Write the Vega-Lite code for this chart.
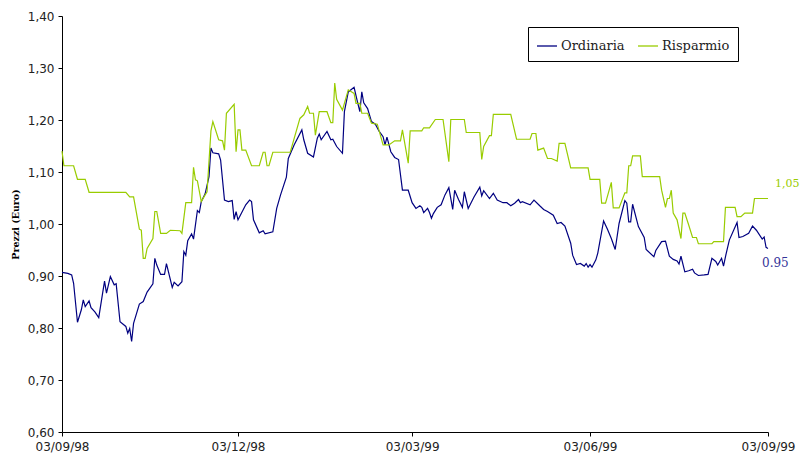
{
  "$schema": "https://vega.github.io/schema/vega-lite/v6.json",
  "width": 706,
  "height": 416,
  "autosize": {"type": "none"},
  "padding": {"left": 62, "top": 16, "right": 32, "bottom": 25},
  "background": "white",
  "config": {"view": {"stroke": null}},
  "datasets": {
    "ordinaria": [
      {"data":"1998-09-03","prezzo":0.907},{"data":"1998-09-06","prezzo":0.905},{"data":"1998-09-08","prezzo":0.902},{"data":"1998-09-09","prezzo":0.886},{"data":"1998-09-11","prezzo":0.811},{"data":"1998-09-13","prezzo":0.835},{"data":"1998-09-14","prezzo":0.854},{"data":"1998-09-15","prezzo":0.841},{"data":"1998-09-17","prezzo":0.852},{"data":"1998-09-18","prezzo":0.839},{"data":"1998-09-20","prezzo":0.831},{"data":"1998-09-22","prezzo":0.820},{"data":"1998-09-24","prezzo":0.867},{"data":"1998-09-25","prezzo":0.890},{"data":"1998-09-26","prezzo":0.867},{"data":"1998-09-28","prezzo":0.899},{"data":"1998-09-30","prezzo":0.883},
      {"data":"1998-10-01","prezzo":0.885},{"data":"1998-10-03","prezzo":0.812},{"data":"1998-10-06","prezzo":0.803},{"data":"1998-10-07","prezzo":0.790},{"data":"1998-10-08","prezzo":0.799},{"data":"1998-10-09","prezzo":0.774},{"data":"1998-10-10","prezzo":0.809},{"data":"1998-10-13","prezzo":0.846},{"data":"1998-10-15","prezzo":0.851},{"data":"1998-10-17","prezzo":0.869},{"data":"1998-10-20","prezzo":0.885},{"data":"1998-10-21","prezzo":0.934},{"data":"1998-10-22","prezzo":0.921},{"data":"1998-10-24","prezzo":0.903},{"data":"1998-10-26","prezzo":0.903},{"data":"1998-10-27","prezzo":0.924},{"data":"1998-10-30","prezzo":0.878},{"data":"1998-10-31","prezzo":0.888},
      {"data":"1998-11-02","prezzo":0.881},{"data":"1998-11-04","prezzo":0.889},{"data":"1998-11-05","prezzo":0.947},{"data":"1998-11-06","prezzo":0.940},{"data":"1998-11-07","prezzo":0.968},{"data":"1998-11-09","prezzo":0.981},{"data":"1998-11-10","prezzo":0.971},{"data":"1998-11-12","prezzo":1.026},{"data":"1998-11-13","prezzo":1.022},{"data":"1998-11-14","prezzo":1.043},{"data":"1998-11-16","prezzo":1.058},{"data":"1998-11-18","prezzo":1.091},{"data":"1998-11-19","prezzo":1.146},{"data":"1998-11-20","prezzo":1.137},{"data":"1998-11-23","prezzo":1.135},{"data":"1998-11-24","prezzo":1.123},{"data":"1998-11-26","prezzo":1.046},{"data":"1998-11-28","prezzo":1.043},{"data":"1998-11-30","prezzo":1.045},
      {"data":"1998-12-01","prezzo":1.009},{"data":"1998-12-02","prezzo":1.024},{"data":"1998-12-03","prezzo":1.008},{"data":"1998-12-07","prezzo":1.037},{"data":"1998-12-09","prezzo":1.046},{"data":"1998-12-10","prezzo":1.043},{"data":"1998-12-11","prezzo":1.008},{"data":"1998-12-14","prezzo":0.983},{"data":"1998-12-16","prezzo":0.987},{"data":"1998-12-17","prezzo":0.981},{"data":"1998-12-21","prezzo":0.985},{"data":"1998-12-23","prezzo":1.030},{"data":"1998-12-25","prezzo":1.056},{"data":"1998-12-28","prezzo":1.090},{"data":"1998-12-29","prezzo":1.126},
      {"data":"1999-01-01","prezzo":1.152},{"data":"1999-01-05","prezzo":1.181},{"data":"1999-01-06","prezzo":1.162},{"data":"1999-01-08","prezzo":1.136},{"data":"1999-01-11","prezzo":1.129},{"data":"1999-01-13","prezzo":1.165},{"data":"1999-01-14","prezzo":1.173},{"data":"1999-01-15","prezzo":1.162},{"data":"1999-01-18","prezzo":1.178},{"data":"1999-01-20","prezzo":1.162},{"data":"1999-01-21","prezzo":1.163},{"data":"1999-01-23","prezzo":1.149},{"data":"1999-01-26","prezzo":1.136},{"data":"1999-01-27","prezzo":1.216},{"data":"1999-01-29","prezzo":1.254},
      {"data":"1999-02-01","prezzo":1.263},{"data":"1999-02-03","prezzo":1.231},{"data":"1999-02-04","prezzo":1.216},{"data":"1999-02-05","prezzo":1.254},{"data":"1999-02-06","prezzo":1.233},{"data":"1999-02-08","prezzo":1.222},{"data":"1999-02-10","prezzo":1.197},{"data":"1999-02-12","prezzo":1.192},{"data":"1999-02-14","prezzo":1.178},{"data":"1999-02-16","prezzo":1.168},{"data":"1999-02-17","prezzo":1.152},{"data":"1999-02-18","prezzo":1.167},{"data":"1999-02-20","prezzo":1.139},{"data":"1999-02-22","prezzo":1.128},{"data":"1999-02-24","prezzo":1.124},{"data":"1999-02-26","prezzo":1.065},
      {"data":"1999-03-01","prezzo":1.065},{"data":"1999-03-03","prezzo":1.041},{"data":"1999-03-05","prezzo":1.030},{"data":"1999-03-07","prezzo":1.035},{"data":"1999-03-08","prezzo":1.032},{"data":"1999-03-09","prezzo":1.022},{"data":"1999-03-11","prezzo":1.030},{"data":"1999-03-12","prezzo":1.022},{"data":"1999-03-13","prezzo":1.011},{"data":"1999-03-14","prezzo":1.020},{"data":"1999-03-16","prezzo":1.032},{"data":"1999-03-18","prezzo":1.037},{"data":"1999-03-20","prezzo":1.056},{"data":"1999-03-22","prezzo":1.070},{"data":"1999-03-24","prezzo":1.028},{"data":"1999-03-25","prezzo":1.065},{"data":"1999-03-27","prezzo":1.047},{"data":"1999-03-29","prezzo":1.032},{"data":"1999-03-30","prezzo":1.062},
      {"data":"1999-04-01","prezzo":1.030},{"data":"1999-04-04","prezzo":1.052},{"data":"1999-04-07","prezzo":1.071},{"data":"1999-04-08","prezzo":1.054},{"data":"1999-04-09","prezzo":1.064},{"data":"1999-04-12","prezzo":1.049},{"data":"1999-04-14","prezzo":1.059},{"data":"1999-04-16","prezzo":1.046},{"data":"1999-04-19","prezzo":1.041},{"data":"1999-04-21","prezzo":1.041},{"data":"1999-04-23","prezzo":1.035},{"data":"1999-04-25","prezzo":1.040},{"data":"1999-04-27","prezzo":1.047},{"data":"1999-04-28","prezzo":1.041},{"data":"1999-04-29","prezzo":1.043},
      {"data":"1999-05-03","prezzo":1.037},{"data":"1999-05-05","prezzo":1.046},{"data":"1999-05-08","prezzo":1.035},{"data":"1999-05-10","prezzo":1.028},{"data":"1999-05-12","prezzo":1.024},{"data":"1999-05-15","prezzo":1.017},{"data":"1999-05-17","prezzo":1.001},{"data":"1999-05-19","prezzo":1.003},{"data":"1999-05-21","prezzo":0.996},{"data":"1999-05-24","prezzo":0.963},{"data":"1999-05-25","prezzo":0.940},{"data":"1999-05-27","prezzo":0.922},{"data":"1999-05-29","prezzo":0.924},{"data":"1999-05-31","prezzo":0.919},
      {"data":"1999-06-01","prezzo":0.924},{"data":"1999-06-02","prezzo":0.917},{"data":"1999-06-03","prezzo":0.922},{"data":"1999-06-04","prezzo":0.917},{"data":"1999-06-06","prezzo":0.931},{"data":"1999-06-07","prezzo":0.944},{"data":"1999-06-10","prezzo":1.006},{"data":"1999-06-12","prezzo":0.990},{"data":"1999-06-14","prezzo":0.972},{"data":"1999-06-16","prezzo":0.951},{"data":"1999-06-18","prezzo":1.001},{"data":"1999-06-21","prezzo":1.045},{"data":"1999-06-22","prezzo":1.040},{"data":"1999-06-23","prezzo":1.004},{"data":"1999-06-24","prezzo":1.004},{"data":"1999-06-25","prezzo":1.038},{"data":"1999-06-28","prezzo":0.995},
      {"data":"1999-07-01","prezzo":0.974},{"data":"1999-07-02","prezzo":0.951},{"data":"1999-07-06","prezzo":0.937},{"data":"1999-07-07","prezzo":0.949},{"data":"1999-07-10","prezzo":0.966},{"data":"1999-07-12","prezzo":0.967},{"data":"1999-07-14","prezzo":0.938},{"data":"1999-07-16","prezzo":0.932},{"data":"1999-07-18","prezzo":0.929},{"data":"1999-07-19","prezzo":0.923},{"data":"1999-07-20","prezzo":0.938},{"data":"1999-07-22","prezzo":0.908},{"data":"1999-07-24","prezzo":0.910},{"data":"1999-07-26","prezzo":0.913},{"data":"1999-07-27","prezzo":0.906},{"data":"1999-07-29","prezzo":0.901},
      {"data":"1999-08-01","prezzo":0.902},{"data":"1999-08-03","prezzo":0.903},{"data":"1999-08-05","prezzo":0.934},{"data":"1999-08-07","prezzo":0.928},{"data":"1999-08-08","prezzo":0.921},{"data":"1999-08-10","prezzo":0.934},{"data":"1999-08-11","prezzo":0.919},{"data":"1999-08-12","prezzo":0.937},{"data":"1999-08-14","prezzo":0.969},{"data":"1999-08-18","prezzo":1.003},{"data":"1999-08-19","prezzo":0.974},{"data":"1999-08-21","prezzo":0.976},{"data":"1999-08-24","prezzo":0.982},{"data":"1999-08-26","prezzo":0.996},{"data":"1999-08-28","prezzo":0.988},{"data":"1999-08-31","prezzo":0.971},
      {"data":"1999-09-01","prezzo":0.975},{"data":"1999-09-02","prezzo":0.955},{"data":"1999-09-03","prezzo":0.953}
    ],
    "risparmio": [
      {"data":"1998-09-03","prezzo":1.140},{"data":"1998-09-04","prezzo":1.112},{"data":"1998-09-09","prezzo":1.112},{"data":"1998-09-11","prezzo":1.086},{"data":"1998-09-15","prezzo":1.086},{"data":"1998-09-17","prezzo":1.061},
      {"data":"1998-10-06","prezzo":1.061},{"data":"1998-10-08","prezzo":1.052},{"data":"1998-10-10","prezzo":1.052},{"data":"1998-10-13","prezzo":0.990},{"data":"1998-10-14","prezzo":0.988},{"data":"1998-10-15","prezzo":0.934},{"data":"1998-10-16","prezzo":0.934},{"data":"1998-10-17","prezzo":0.953},{"data":"1998-10-20","prezzo":0.972},{"data":"1998-10-21","prezzo":1.024},{"data":"1998-10-22","prezzo":1.024},{"data":"1998-10-24","prezzo":0.982},{"data":"1998-10-27","prezzo":0.982},{"data":"1998-10-29","prezzo":0.988},
      {"data":"1998-11-03","prezzo":0.987},{"data":"1998-11-04","prezzo":0.982},{"data":"1998-11-06","prezzo":1.041},{"data":"1998-11-09","prezzo":1.041},{"data":"1998-11-10","prezzo":1.109},{"data":"1998-11-11","prezzo":1.085},{"data":"1998-11-12","prezzo":1.083},{"data":"1998-11-14","prezzo":1.043},{"data":"1998-11-16","prezzo":1.056},{"data":"1998-11-17","prezzo":1.062},{"data":"1998-11-19","prezzo":1.179},{"data":"1998-11-20","prezzo":1.197},{"data":"1998-11-23","prezzo":1.162},{"data":"1998-11-25","prezzo":1.160},{"data":"1998-11-26","prezzo":1.142},{"data":"1998-11-27","prezzo":1.213},
      {"data":"1998-12-01","prezzo":1.230},{"data":"1998-12-02","prezzo":1.139},{"data":"1998-12-03","prezzo":1.181},{"data":"1998-12-04","prezzo":1.181},{"data":"1998-12-05","prezzo":1.142},{"data":"1998-12-07","prezzo":1.142},{"data":"1998-12-10","prezzo":1.112},{"data":"1998-12-14","prezzo":1.112},{"data":"1998-12-16","prezzo":1.138},{"data":"1998-12-17","prezzo":1.138},{"data":"1998-12-18","prezzo":1.112},{"data":"1998-12-19","prezzo":1.112},{"data":"1998-12-21","prezzo":1.138},{"data":"1998-12-30","prezzo":1.138},
      {"data":"1999-01-04","prezzo":1.203},{"data":"1999-01-06","prezzo":1.210},{"data":"1999-01-08","prezzo":1.226},{"data":"1999-01-09","prezzo":1.213},{"data":"1999-01-11","prezzo":1.213},{"data":"1999-01-12","prezzo":1.171},{"data":"1999-01-14","prezzo":1.216},{"data":"1999-01-18","prezzo":1.216},{"data":"1999-01-20","prezzo":1.195},{"data":"1999-01-21","prezzo":1.195},{"data":"1999-01-22","prezzo":1.271},{"data":"1999-01-23","prezzo":1.240},{"data":"1999-01-26","prezzo":1.219},{"data":"1999-01-27","prezzo":1.232},{"data":"1999-01-29","prezzo":1.258},
      {"data":"1999-02-01","prezzo":1.251},{"data":"1999-02-02","prezzo":1.232},{"data":"1999-02-04","prezzo":1.232},{"data":"1999-02-05","prezzo":1.213},{"data":"1999-02-08","prezzo":1.213},{"data":"1999-02-10","prezzo":1.194},{"data":"1999-02-13","prezzo":1.192},{"data":"1999-02-16","prezzo":1.152},{"data":"1999-02-19","prezzo":1.152},{"data":"1999-02-22","prezzo":1.160},{"data":"1999-02-25","prezzo":1.160},{"data":"1999-02-26","prezzo":1.181},
      {"data":"1999-03-01","prezzo":1.117},{"data":"1999-03-02","prezzo":1.179},{"data":"1999-03-08","prezzo":1.179},{"data":"1999-03-09","prezzo":1.185},{"data":"1999-03-12","prezzo":1.185},{"data":"1999-03-15","prezzo":1.201},{"data":"1999-03-19","prezzo":1.201},{"data":"1999-03-22","prezzo":1.120},{"data":"1999-03-23","prezzo":1.201},{"data":"1999-03-30","prezzo":1.201},{"data":"1999-03-31","prezzo":1.176},
      {"data":"1999-04-07","prezzo":1.176},{"data":"1999-04-08","prezzo":1.124},{"data":"1999-04-09","prezzo":1.149},{"data":"1999-04-12","prezzo":1.170},{"data":"1999-04-13","prezzo":1.170},{"data":"1999-04-14","prezzo":1.211},{"data":"1999-04-23","prezzo":1.211},{"data":"1999-04-26","prezzo":1.163},
      {"data":"1999-05-03","prezzo":1.163},{"data":"1999-05-04","prezzo":1.174},{"data":"1999-05-06","prezzo":1.174},{"data":"1999-05-07","prezzo":1.142},{"data":"1999-05-10","prezzo":1.146},{"data":"1999-05-12","prezzo":1.126},{"data":"1999-05-14","prezzo":1.126},{"data":"1999-05-17","prezzo":1.121},{"data":"1999-05-18","prezzo":1.155},{"data":"1999-05-21","prezzo":1.155},{"data":"1999-05-24","prezzo":1.108},
      {"data":"1999-06-02","prezzo":1.108},{"data":"1999-06-03","prezzo":1.086},{"data":"1999-06-08","prezzo":1.086},{"data":"1999-06-09","prezzo":1.040},{"data":"1999-06-11","prezzo":1.040},{"data":"1999-06-14","prezzo":1.080},{"data":"1999-06-15","prezzo":1.031},{"data":"1999-06-18","prezzo":1.031},{"data":"1999-06-21","prezzo":1.060},{"data":"1999-06-22","prezzo":1.060},{"data":"1999-06-23","prezzo":1.112},{"data":"1999-06-24","prezzo":1.112},{"data":"1999-06-25","prezzo":1.131},{"data":"1999-06-29","prezzo":1.131},{"data":"1999-06-30","prezzo":1.091},
      {"data":"1999-07-09","prezzo":1.091},{"data":"1999-07-10","prezzo":1.065},{"data":"1999-07-12","prezzo":1.032},{"data":"1999-07-13","prezzo":1.049},{"data":"1999-07-14","prezzo":1.049},{"data":"1999-07-15","prezzo":1.065},{"data":"1999-07-16","prezzo":1.021},{"data":"1999-07-18","prezzo":1.008},{"data":"1999-07-20","prezzo":0.972},{"data":"1999-07-21","prezzo":1.021},{"data":"1999-07-22","prezzo":1.021},{"data":"1999-07-24","prezzo":0.998},{"data":"1999-07-26","prezzo":0.974},{"data":"1999-07-28","prezzo":0.974},{"data":"1999-07-29","prezzo":0.962},
      {"data":"1999-08-05","prezzo":0.962},{"data":"1999-08-06","prezzo":0.966},{"data":"1999-08-11","prezzo":0.966},{"data":"1999-08-12","prezzo":1.032},{"data":"1999-08-17","prezzo":1.032},{"data":"1999-08-18","prezzo":1.014},{"data":"1999-08-20","prezzo":1.014},{"data":"1999-08-22","prezzo":1.021},{"data":"1999-08-26","prezzo":1.021},{"data":"1999-08-27","prezzo":1.049},
      {"data":"1999-09-03","prezzo":1.049}
    ]
  },
  "encoding": {
    "x": {
      "field": "data",
      "type": "temporal",
      "scale": {
        "type": "utc",
        "domain": [
          {"year": 1998, "month": 9, "date": 3, "utc": true},
          {"year": 1999, "month": 9, "date": 3, "utc": true}
        ]
      },
      "axis": {
        "title": null,
        "grid": false,
        "values": [
          {"year": 1998, "month": 9, "date": 3, "utc": true},
          {"year": 1998, "month": 12, "date": 3, "utc": true},
          {"year": 1999, "month": 3, "date": 3, "utc": true},
          {"year": 1999, "month": 6, "date": 3, "utc": true},
          {"year": 1999, "month": 9, "date": 3, "utc": true}
        ],
        "labelExpr": "utcFormat(datum.value, '%d/%m/%y')",
        "labelFont": "DejaVu Sans",
        "labelFontSize": 12,
        "labelColor": "#222222",
        "labelPadding": 5,
        "labelFlush": false,
        "labelOverlap": false,
        "domainColor": "black",
        "tickColor": "black",
        "tickSize": 4
      }
    },
    "y": {
      "field": "prezzo",
      "type": "quantitative",
      "scale": {"domain": [0.6, 1.4], "zero": false, "nice": false},
      "axis": {
        "title": "Prezzi (Euro)",
        "titleFont": "DejaVu Serif",
        "titleFontWeight": "bold",
        "titleFontSize": 9.5,
        "titleColor": "black",
        "titlePadding": 7,
        "grid": false,
        "values": [0.6, 0.7, 0.8, 0.9, 1.0, 1.1, 1.2, 1.3, 1.4],
        "labelExpr": "replace(format(datum.value, '.2f'), '.', ',')",
        "labelFont": "DejaVu Sans",
        "labelFontSize": 12,
        "labelColor": "#222222",
        "labelPadding": 4,
        "domainColor": "black",
        "tickColor": "black",
        "tickSize": 4
      }
    }
  },
  "layer": [
    {
      "data": {"name": "ordinaria"},
      "mark": {"type": "line", "strokeWidth": 1.2},
      "encoding": {
        "color": {
          "datum": "Ordinaria",
          "scale": {"domain": ["Ordinaria", "Risparmio"], "range": ["#000080", "#99CC00"]},
          "legend": {
            "title": null,
            "orient": "none",
            "legendX": 466,
            "legendY": 11,
            "direction": "horizontal",
            "strokeColor": "black",
            "fillColor": "white",
            "padding": 8,
            "symbolType": "stroke",
            "symbolSize": 400,
            "symbolStrokeWidth": 1.3,
            "labelFont": "DejaVu Serif",
            "labelFontSize": 13,
            "labelColor": "#222222",
            "labelOffset": 3,
            "columnPadding": 10
          }
        }
      }
    },
    {
      "data": {"name": "risparmio"},
      "mark": {"type": "line", "strokeWidth": 1.2},
      "encoding": {"color": {"datum": "Risparmio"}}
    },
    {
      "data": {"values": [{"data": "1999-09-03", "prezzo": 1.049, "testo": "1,05"}]},
      "mark": {"type": "text", "align": "left", "baseline": "middle", "dx": 7, "dy": -15, "font": "DejaVu Serif", "fontSize": 11, "color": "#99CC00"},
      "encoding": {"text": {"field": "testo"}}
    },
    {
      "data": {"values": [{"data": "1999-09-03", "prezzo": 0.953, "testo": "0.95"}]},
      "mark": {"type": "text", "align": "left", "baseline": "middle", "dx": -6, "dy": 15, "font": "DejaVu Serif", "fontSize": 12, "color": "#333399"},
      "encoding": {"text": {"field": "testo"}}
    }
  ]
}
